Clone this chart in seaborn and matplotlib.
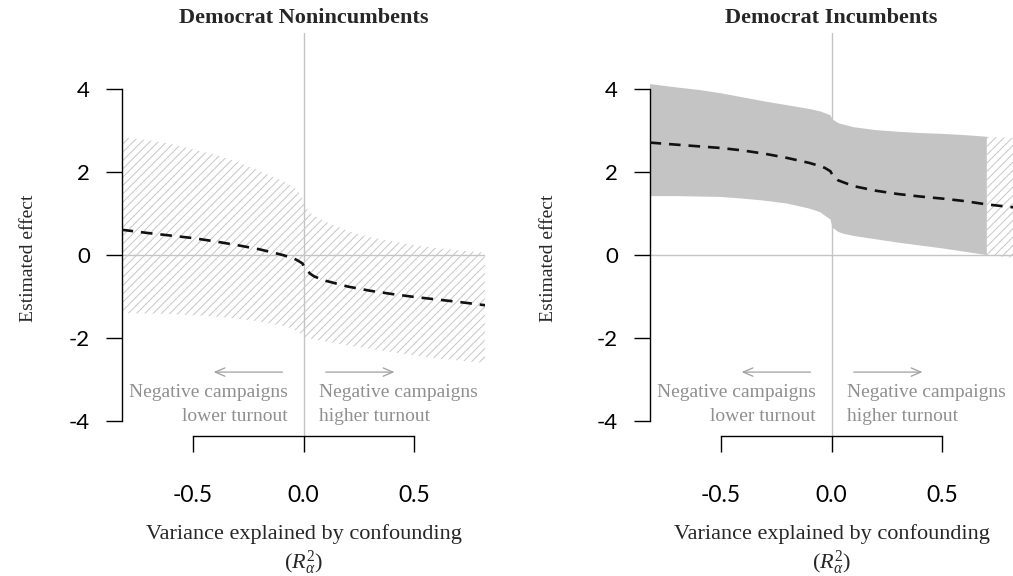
import numpy as np
import pandas as pd
import matplotlib
matplotlib.use("Agg")
import matplotlib.pyplot as plt
import seaborn as sns

# Confounding strength (R^2 signed) at which the sensitivity bounds were evaluated
r2_grid = [-0.82, -0.7, -0.6, -0.5, -0.4, -0.3, -0.2, -0.1, -0.05, -0.03, -0.005,
           0.005, 0.03, 0.05, 0.1, 0.2, 0.3, 0.4, 0.5, 0.6, 0.7, 0.82]

# Democrat nonincumbents
noninc_est = [0.61, 0.53, 0.47, 0.41, 0.33, 0.24, 0.14, 0.01, -0.07, -0.12, -0.20,
              -0.30, -0.45, -0.52, -0.62, -0.76, -0.86, -0.94, -1.01, -1.07, -1.13, -1.21]
noninc_hi = [2.84, 2.77, 2.68, 2.55, 2.42, 2.25, 2.03, 1.80, 1.66, 1.57, 1.38,
             1.18, 1.02, 0.95, 0.80, 0.58, 0.43, 0.33, 0.24, 0.17, 0.11, 0.06]
noninc_lo = [-1.40, -1.41, -1.42, -1.45, -1.48, -1.53, -1.60, -1.70, -1.77, -1.84, -1.92,
             -1.98, -2.01, -2.03, -2.08, -2.18, -2.26, -2.34, -2.42, -2.49, -2.54, -2.60]

# Democrat incumbents
inc_est = [2.71, 2.66, 2.62, 2.58, 2.52, 2.44, 2.34, 2.22, 2.14, 2.10, 2.02,
           1.92, 1.80, 1.76, 1.66, 1.55, 1.47, 1.41, 1.36, 1.30, 1.22, 1.15]
inc_hi = [4.12, 4.04, 3.98, 3.90, 3.80, 3.70, 3.61, 3.52, 3.46, 3.42, 3.37,
          3.27, 3.18, 3.15, 3.08, 3.01, 2.97, 2.94, 2.92, 2.89, 2.85, 2.82]
inc_lo = [1.42, 1.42, 1.41, 1.40, 1.36, 1.31, 1.24, 1.12, 1.03, 0.95, 0.86,
          0.66, 0.56, 0.52, 0.46, 0.38, 0.30, 0.23, 0.16, 0.08, 0.00, -0.07]

panel_titles = ["Democrat Nonincumbents", "Democrat Incumbents"]
y_ticks = [-4, -2, 0, 2, 4]
x_ticks = [-0.5, 0.0, 0.5]
x_ticklabels = ["-0.5", "0.0", "0.5"]

sns.set_theme(style="ticks")
plt.rcParams["font.family"] = ["Liberation Serif", "DejaVu Serif"]
plt.rcParams["mathtext.fontset"] = "custom"
plt.rcParams["mathtext.rm"] = "Liberation Serif"
plt.rcParams["mathtext.it"] = "Liberation Serif:italic"
plt.rcParams["axes.unicode_minus"] = False
plt.rcParams["hatch.linewidth"] = 0.7

fig = plt.figure(figsize=(10.13, 5.76), dpi=100)
ax_left = fig.add_axes([122 / 1013, 140 / 576, 363 / 1013, 403 / 576])
ax_right = fig.add_axes([650 / 1013, 140 / 576, 363 / 1013, 403 / 576])

panels = [
    (ax_left, noninc_est, noninc_lo, noninc_hi, -0.234),
    (ax_right, inc_est, inc_lo, inc_hi, -0.256),
]

grey_txt = "#8f8f8f"

for (ax, est, lo, hi, ylab_x), title in zip(panels, panel_titles):
    df = pd.DataFrame({"r2": r2_grid, "est": est, "lo": lo, "hi": hi})
    x = df["r2"].to_numpy()
    lo_a = df["lo"].to_numpy()
    hi_a = df["hi"].to_numpy()

    # reference lines
    ax.axvline(0, color="#c4c4c4", lw=1.0, zorder=1)
    ax.axhline(0, color="#c4c4c4", lw=1.0, zorder=1)

    # bounds that exclude zero are solid, those that include zero are hatched
    excl = (lo_a >= 0) | (hi_a <= 0)
    incl = (lo_a <= 0) & (hi_a >= 0)
    if excl.any():
        ax.fill_between(x, lo_a, hi_a, where=excl, facecolor="#c4c4c4",
                        edgecolor="none", linewidth=0, zorder=2)
    if incl.any():
        ax.fill_between(x, lo_a, hi_a, where=incl, facecolor="none",
                        edgecolor="#c6c6c6", hatch="////", linewidth=0, zorder=2)

    sns.lineplot(data=df, x="r2", y="est", ax=ax, color="#111111", lw=1.9,
                 dashes=False, zorder=3)
    ax.lines[-1].set_dashes((4.4, 3.0))

    # direction annotations
    arrow_kw = dict(arrowstyle="->,head_length=0.7,head_width=0.3",
                    color="#a0a0a0", lw=0.9, mutation_scale=10,
                    shrinkA=0, shrinkB=0)
    ax.annotate("", xy=(-0.405, -2.82), xytext=(-0.095, -2.82), arrowprops=arrow_kw)
    ax.annotate("", xy=(0.41, -2.82), xytext=(0.10, -2.82), arrowprops=arrow_kw)
    ax.text(-0.072, -3.6, "Negative campaigns\nlower turnout", ha="right",
            va="center", color=grey_txt, fontsize=14, linespacing=1.55)
    ax.text(0.072, -3.6, "Negative campaigns\nhigher turnout", ha="left",
            va="center", color=grey_txt, fontsize=14, linespacing=1.55)

    ax.set_xlim(-0.818, 0.818)
    ax.set_ylim(-4.36, 5.35)
    ax.set_yticks(y_ticks)
    ax.set_yticklabels([str(t) for t in y_ticks], fontfamily="Lato", fontsize=16)
    ax.set_xticks(x_ticks)
    ax.set_xticklabels(x_ticklabels, fontfamily="Lato", fontsize=16.5)

    sns.despine(ax=ax)
    ax.spines["left"].set_bounds(-4, 4)
    ax.spines["bottom"].set_bounds(-0.5, 0.5)
    for s in ("left", "bottom"):
        ax.spines[s].set_linewidth(1.0)
        ax.spines[s].set_color("black")
    ax.tick_params(axis="y", direction="out", length=11.5, width=1.0, pad=11.5,
                   colors="black")
    ax.tick_params(axis="x", direction="out", length=11.5, width=1.0, pad=24,
                   colors="black")

    ax.set_title(title, fontsize=16, fontweight="bold", pad=7)
    ax.set_ylabel("Estimated effect", fontsize=14)
    ax.yaxis.set_label_coords(ylab_x, 0.442)
    ax.set_xlabel("Variance explained by confounding\n($R^2_{\\alpha}$)",
                  fontsize=16, linespacing=1.25)
    ax.xaxis.set_label_coords(0.5, -0.218)

fig.savefig("out.png", dpi=100)
